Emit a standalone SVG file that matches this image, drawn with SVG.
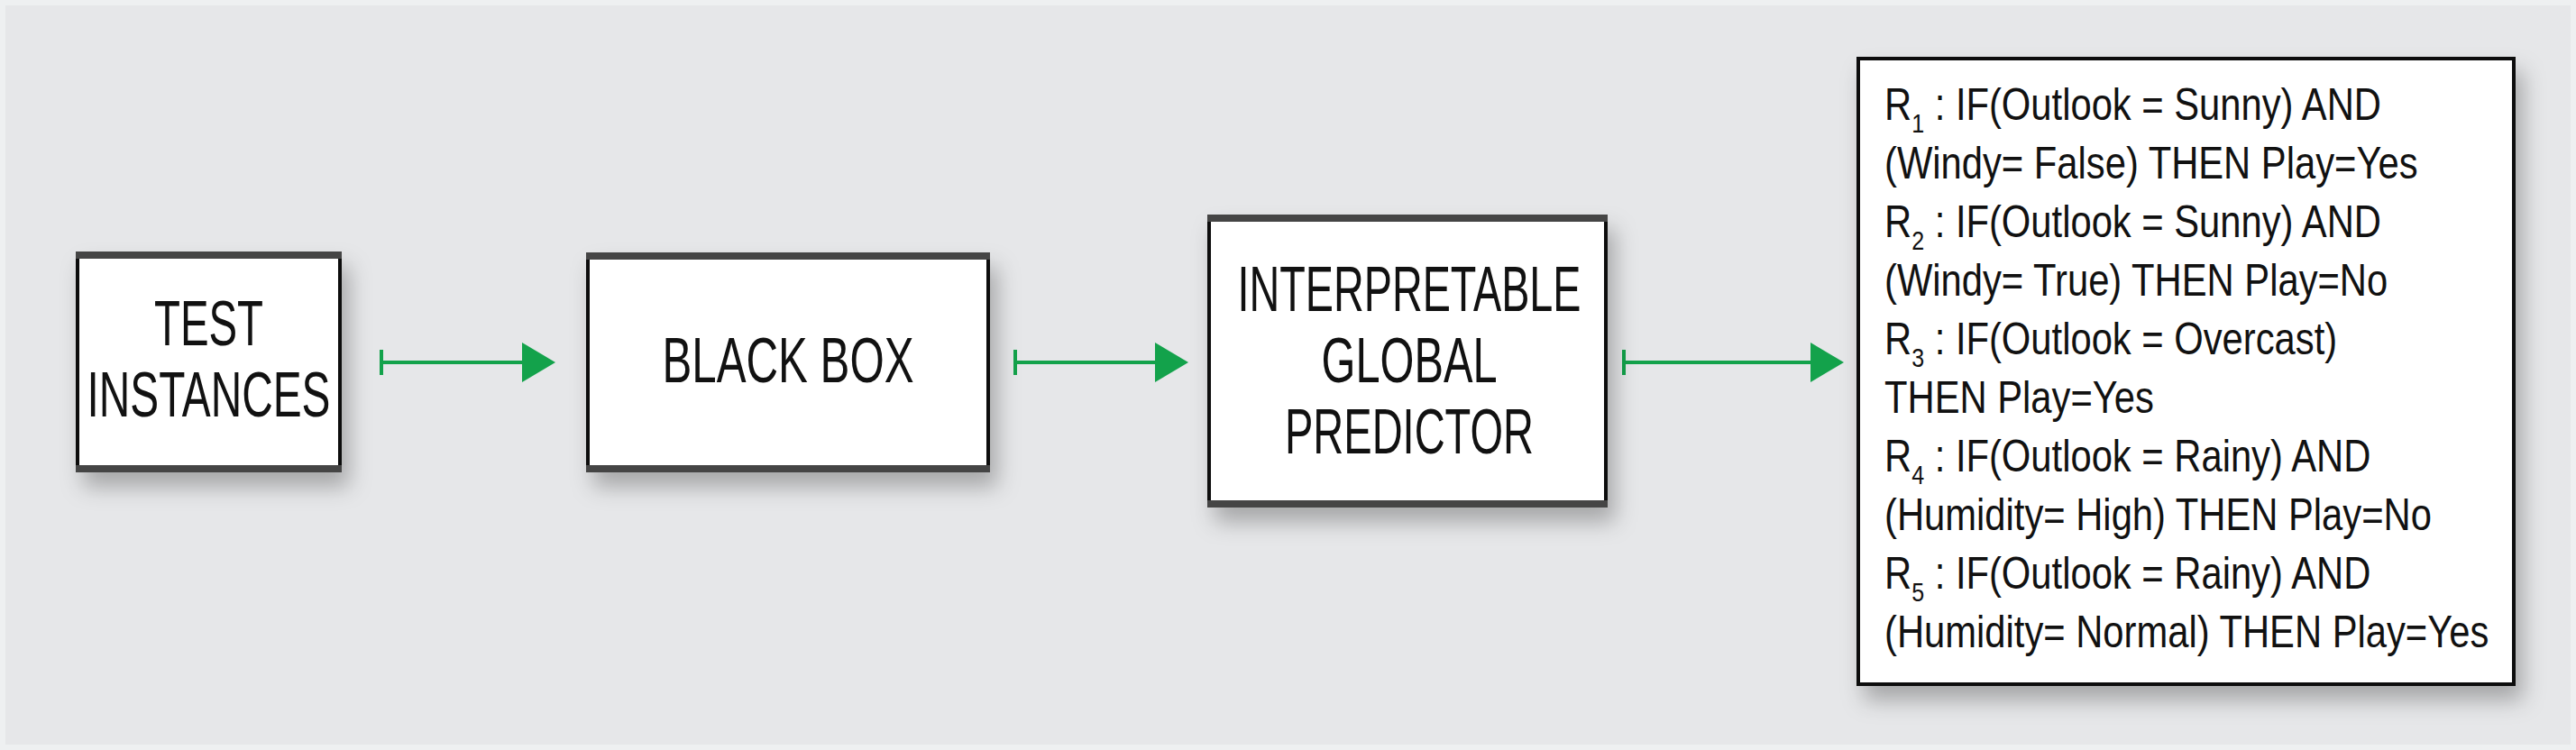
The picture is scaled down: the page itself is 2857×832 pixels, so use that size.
<svg xmlns="http://www.w3.org/2000/svg" width="2857" height="832" viewBox="0 0 2857 832">
  <style>
    .box { fill: #ffffff; stroke: #111111; stroke-width: 4; }
    .band { fill: #454545; }
    .lbl { font-family: "Liberation Sans", Arial, sans-serif; font-size: 70px; fill: #111111; text-anchor: middle; }
    .rule { font-family: "Liberation Sans", Arial, sans-serif; font-size: 50px; fill: #111111; }
    .sub { font-size: 30px; }
    .conn { stroke: #13a24b; stroke-width: 4; fill: none; marker-start: url(#tick); marker-end: url(#head); }
  </style>
  <defs>
    <filter id="shadow" x="-20%" y="-20%" width="150%" height="150%">
      <feDropShadow dx="8" dy="16" stdDeviation="12" flood-color="#000000" flood-opacity="0.28"/>
    </filter>
    <marker id="head" markerUnits="userSpaceOnUse" markerWidth="40" markerHeight="46" refX="21" refY="22" orient="auto">
      <path d="M0,0 L37,22 L0,44 Z" fill="#13a24b"/>
    </marker>
    <marker id="tick" markerUnits="userSpaceOnUse" markerWidth="4" markerHeight="28" refX="2" refY="14" orient="auto">
      <rect x="0" y="0" width="4" height="28" fill="#13a24b"/>
    </marker>
  </defs>

  <rect x="0" y="0" width="2857" height="832" fill="#eef0f1"/>
  <rect x="6" y="6" width="2845" height="820" fill="#e6e7e9"/>

  <g id="connectors">
    <line class="conn" x1="423" y1="402" x2="600" y2="402"/>
    <line class="conn" x1="1126" y1="402" x2="1302" y2="402"/>
    <line class="conn" x1="1801" y1="402" x2="2029" y2="402"/>
  </g>

  <g id="test-instances">
    <rect class="box" x="86" y="281" width="291" height="241" filter="url(#shadow)"/>
    <rect class="band" x="84" y="279" width="295" height="8"/>
    <rect class="band" x="84" y="516" width="295" height="8"/>
    <text class="lbl" x="231.5" y="383" textLength="121" lengthAdjust="spacingAndGlyphs">TEST</text>
    <text class="lbl" x="231.5" y="462" textLength="270" lengthAdjust="spacingAndGlyphs">INSTANCES</text>
  </g>

  <g id="black-box">
    <rect class="box" x="652" y="282" width="444" height="240" filter="url(#shadow)"/>
    <rect class="band" x="650" y="280" width="448" height="8"/>
    <rect class="band" x="650" y="516" width="448" height="8"/>
    <text class="lbl" x="874" y="424" textLength="279" lengthAdjust="spacingAndGlyphs">BLACK BOX</text>
  </g>

  <g id="interpretable-global-predictor">
    <rect class="box" x="1341" y="240" width="440" height="321" filter="url(#shadow)"/>
    <rect class="band" x="1339" y="238" width="444" height="8"/>
    <rect class="band" x="1339" y="555" width="444" height="8"/>
    <text class="lbl" x="1563" y="345" textLength="381" lengthAdjust="spacingAndGlyphs">INTERPRETABLE</text>
    <text class="lbl" x="1563" y="424" textLength="195" lengthAdjust="spacingAndGlyphs">GLOBAL</text>
    <text class="lbl" x="1563" y="503" textLength="276" lengthAdjust="spacingAndGlyphs">PREDICTOR</text>
  </g>

  <g id="rules">
    <rect class="box" x="2061" y="65" width="727" height="694" filter="url(#shadow)"/>
    <g transform="translate(2090 0) scale(0.835 1)">
      <text class="rule" x="0" y="133">R<tspan class="sub" dy="14">1</tspan><tspan dy="-14"> : IF(Outlook = Sunny) AND</tspan></text>
      <text class="rule" x="0" y="198">(Windy= False) THEN Play=Yes</text>
      <text class="rule" x="0" y="263">R<tspan class="sub" dy="14">2</tspan><tspan dy="-14"> : IF(Outlook = Sunny) AND</tspan></text>
      <text class="rule" x="0" y="328">(Windy= True) THEN Play=No</text>
      <text class="rule" x="0" y="393">R<tspan class="sub" dy="14">3</tspan><tspan dy="-14"> : IF(Outlook = Overcast)</tspan></text>
      <text class="rule" x="0" y="458">THEN Play=Yes</text>
      <text class="rule" x="0" y="523">R<tspan class="sub" dy="14">4</tspan><tspan dy="-14"> : IF(Outlook = Rainy) AND</tspan></text>
      <text class="rule" x="0" y="588">(Humidity= High) THEN Play=No</text>
      <text class="rule" x="0" y="653">R<tspan class="sub" dy="14">5</tspan><tspan dy="-14"> : IF(Outlook = Rainy) AND</tspan></text>
      <text class="rule" x="0" y="718">(Humidity= Normal) THEN Play=Yes</text>
    </g>
  </g>
</svg>
